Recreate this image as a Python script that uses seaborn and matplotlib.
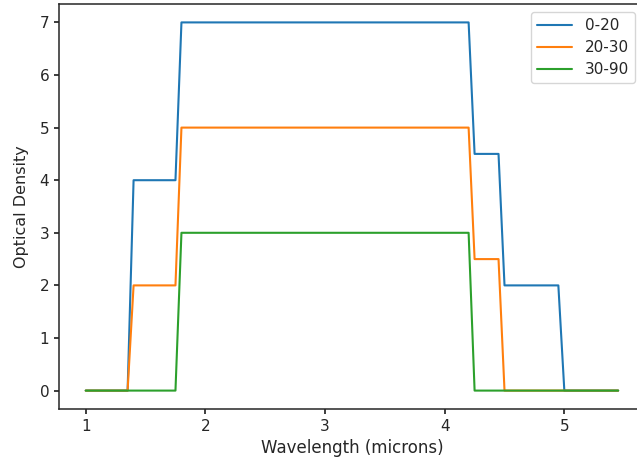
import matplotlib
matplotlib.use("Agg")
import matplotlib.pyplot as plt
import seaborn as sns
import pandas as pd

# Corner points of each curve (wavelength in microns, optical density)
wl_0_20 = [1.0, 1.35, 1.4, 1.75, 1.8, 4.2, 4.25, 4.45, 4.5, 4.95, 5.0, 5.45]
od_0_20 = [0, 0, 4, 4, 7, 7, 4.5, 4.5, 2, 2, 0, 0]

wl_20_30 = [1.0, 1.35, 1.4, 1.75, 1.8, 4.2, 4.25, 4.45, 4.5, 5.45]
od_20_30 = [0, 0, 2, 2, 5, 5, 2.5, 2.5, 0, 0]

wl_30_90 = [1.0, 1.75, 1.8, 4.2, 4.25, 5.45]
od_30_90 = [0, 0, 3, 3, 0, 0]

series_names = ["0-20", "20-30", "30-90"]

frames = []
for name, wl, od in zip(series_names, [wl_0_20, wl_20_30, wl_30_90],
                        [od_0_20, od_20_30, od_30_90]):
    frames.append(pd.DataFrame({"Wavelength": wl, "OD": od, "series": name}))
df = pd.concat(frames, ignore_index=True)

sns.set_theme(style="ticks", context="notebook", rc={
    "xtick.major.size": 3.6, "ytick.major.size": 3.6,
    "xtick.major.pad": 3.5, "ytick.major.pad": 3.5,
    "axes.labelpad": 3.5,
    "xtick.labelsize": 11, "ytick.labelsize": 11,
    "axes.labelsize": 12, "legend.fontsize": 11,
    "axes.linewidth": 1.1,
})
plt.rcParams['font.family'] = ['DejaVu Sans']

W, H = 637, 458
fig = plt.figure(figsize=(W / 100, H / 100), dpi=100)
# axes extends slightly past the right edge (reference is cropped there)
ax = fig.add_axes([59.1 / W, 1 - 409 / H, (644.8 - 59.1) / W, (409 - 4) / H])

palette = ["#1f77b4", "#ff7f0e", "#2ca02c"]
sns.lineplot(data=df, x="Wavelength", y="OD", hue="series", sort=False,
             palette=palette, ax=ax, estimator=None, linewidth=1.5)

ax.set_xlabel("Wavelength (microns)")
ax.set_ylabel("Optical Density", fontsize=11.5, labelpad=7.5)
ax.set_xticks([1, 2, 3, 4, 5])
ax.set_yticks(range(0, 8))
leg = ax.legend(loc="upper right", title=None, labelspacing=0.45,
                handlelength=2.3, borderaxespad=0,
                bbox_to_anchor=(635 / W, 1 - 12 / H),
                bbox_transform=fig.transFigure)

fig.savefig("out.png", dpi=100)
